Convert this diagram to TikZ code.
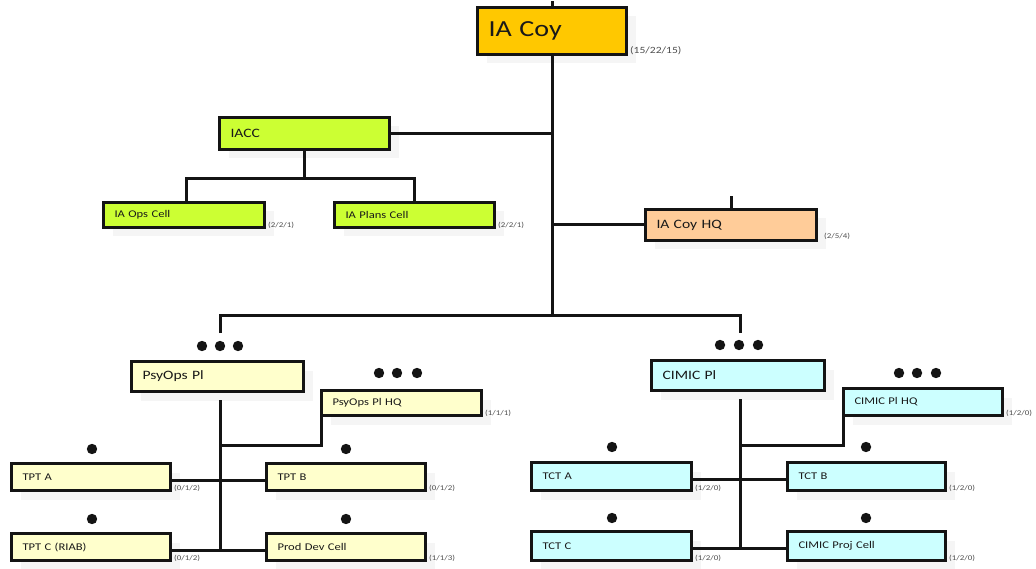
\documentclass[tikz,border=0pt]{standalone}
\usepackage{fontspec}
\setmainfont{Carlito}[FakeStretch=1.22]
\usetikzlibrary{shadows,calc}
\definecolor{ccoy}{HTML}{FFC800}
\definecolor{cgrn}{HTML}{CCFF33}
\definecolor{cpeach}{HTML}{FFCC99}
\definecolor{cyel}{HTML}{FFFFCC}
\definecolor{ccyan}{HTML}{CCFFFF}
\begin{document}
\begin{tikzpicture}[x=1pt,y=-1pt,
  bx/.style n args={3}{minimum width=#1pt, minimum height=#2pt, text width=#3pt},
  box/.style={draw=black!92, line width=3pt, anchor=north west, inner xsep=11pt, inner ysep=0pt,
    align=left, text=black!90, font=\fontsize{10.3}{12}\selectfont,
    drop shadow={shadow xshift=9pt, shadow yshift=-9pt, fill=black!4, opacity=1}},
  big/.style={font=\fontsize{12.8}{15}\selectfont},
  cnt/.style={font=\fontsize{7.3}{8}\selectfont, text=black!70, anchor=south west, inner sep=0pt, xshift=2pt},
  wire/.style={draw=black!92, line width=3pt},
  dot/.style={fill=black!92}
]
\useasboundingbox (0,0) rectangle (1036,569);

% ---------- boxes ----------
\node[box, bx={149}{47}{127}, fill=ccoy, font=\fontsize{23}{26}\selectfont] (coy) at (476,6) {IA Coy};
\node[box, bx={170}{32}{148}, fill=cgrn, big] (iacc) at (218,116) {IACC};
\node[box, bx={161}{25}{139}, fill=cgrn] (iaops) at (102,201) {IA Ops Cell};
\node[box, bx={160}{25}{138}, fill=cgrn] (iaplans) at (333,201) {IA Plans Cell};
\node[box, bx={171}{31}{149}, fill=cpeach, big] (hq) at (644,208) {IA Coy HQ};

\node[box, bx={172}{30}{150}, fill=cyel, big] (psy) at (130,360) {PsyOps Pl};
\node[box, bx={160}{25}{138}, fill=cyel] (pshq) at (320,389) {PsyOps Pl HQ};
\node[box, bx={159}{27}{137}, fill=cyel] (tpta) at (10,462) {TPT A};
\node[box, bx={159}{27}{137}, fill=cyel] (tptb) at (265,462) {TPT B};
\node[box, bx={159}{27}{137}, fill=cyel] (tptc) at (10,532) {TPT C (RIAB)};
\node[box, bx={159}{27}{137}, fill=cyel] (prod) at (265,532) {Prod Dev Cell};

\node[box, bx={173}{30}{151}, fill=ccyan, big] (cim) at (650,359) {CIMIC Pl};
\node[box, bx={159}{27}{137}, fill=ccyan] (cihq) at (842,387) {CIMIC Pl HQ};
\node[box, bx={160}{28}{138}, fill=ccyan] (tcta) at (530,461) {TCT A};
\node[box, bx={158}{28}{136}, fill=ccyan] (tctb) at (786,461) {TCT B};
\node[box, bx={160}{29}{138}, fill=ccyan] (tctc) at (530,530) {TCT C};
\node[box, bx={158}{29}{136}, fill=ccyan] (proj) at (786,530) {CIMIC Proj Cell};

% ---------- strength labels ----------
\node[cnt, font=\fontsize{9.5}{11}\selectfont, yshift=1pt] (coyl) at (coy.south east) {(15/22/15)};
\node[cnt] (iaopsl) at (iaops.south east) {(2/2/1)};
\node[cnt] (iaplansl) at (iaplans.south east) {(2/2/1)};
\node[cnt, xshift=4pt, yshift=2pt] (hql) at (hq.south east) {(2/5/4)};
\node[cnt] (pshql) at (pshq.south east) {(1/1/1)};
\node[cnt] (tptal) at (tpta.south east) {(0/1/2)};
\node[cnt] (tptbl) at (tptb.south east) {(0/1/2)};
\node[cnt] (tptcl) at (tptc.south east) {(0/1/2)};
\node[cnt] (prodl) at (prod.south east) {(1/1/3)};
\node[cnt] (cihql) at (cihq.south east) {(1/2/0)};
\node[cnt] (tctal) at (tcta.south east) {(1/2/0)};
\node[cnt] (tctbl) at (tctb.south east) {(1/2/0)};
\node[cnt] (tctcl) at (tctc.south east) {(1/2/0)};
\node[cnt] (projl) at (proj.south east) {(1/2/0)};

% ---------- connectors ----------
\coordinate (bus) at (553,316);
\coordinate (iaj) at (305,179);
\coordinate (psstub) at (220,333);
\coordinate (cistub) at (740,333);
\coordinate (psv) at (220,400);
\coordinate (psj) at (220,445);
\coordinate (civ) at (740,399);
\coordinate (cij) at (740,445);

\draw[wire] (coy.north) -- ++(0,-5);
\draw[wire] (coy.south) -- (coy.south |- bus);
\draw[wire] (iacc.east) -- (iacc.east -| coy.south);
\draw[wire] (iacc.south) -- (iacc.south |- iaj);
\draw[wire] ([xshift=2pt]iaops.north) |- (iaj) -| (iaplans.north);
\draw[wire] (hq.west) -- (hq.west -| coy.south);
\draw[wire] (hq.north) -- ++(0,-12);
\draw[wire] (psstub) |- (bus) -| (cistub);

\draw[wire] ([yshift=-3pt]tptc.east) -| (psv);
\draw[wire] ([yshift=-3pt]prod.west) -- ([yshift=-3pt]prod.west -| psv);
\draw[wire] ([yshift=-3pt]tpta.east) -- ([yshift=-3pt]tptb.west);
\draw[wire] ([xshift=1.5pt]pshq.south west) |- (psj);

\draw[wire] ([yshift=-2pt]tctc.east) -| (civ);
\draw[wire] ([yshift=-2pt]proj.west) -- ([yshift=-2pt]proj.west -| civ);
\draw[wire] ([yshift=-2.5pt]tcta.east) -- ([yshift=-2.5pt]tctb.west);
\draw[wire] ([xshift=1.5pt]cihq.south west) |- (cij);

% ---------- rank dots ----------
\foreach \x in {202,220,238} \fill[dot] (\x,346) circle (5.2pt);
\foreach \x in {379,397,417} \fill[dot] (\x,373) circle (5.2pt);
\foreach \x in {720,739,758} \fill[dot] (\x,345) circle (5.2pt);
\foreach \x in {899,917,936} \fill[dot] (\x,373) circle (5.2pt);
\foreach \x/\y in {92/449,346/449,92/519,346/519,612/447,866/447,612/518,866/518}
  \fill[dot] (\x,\y) circle (5.2pt);
\end{tikzpicture}
\end{document}
